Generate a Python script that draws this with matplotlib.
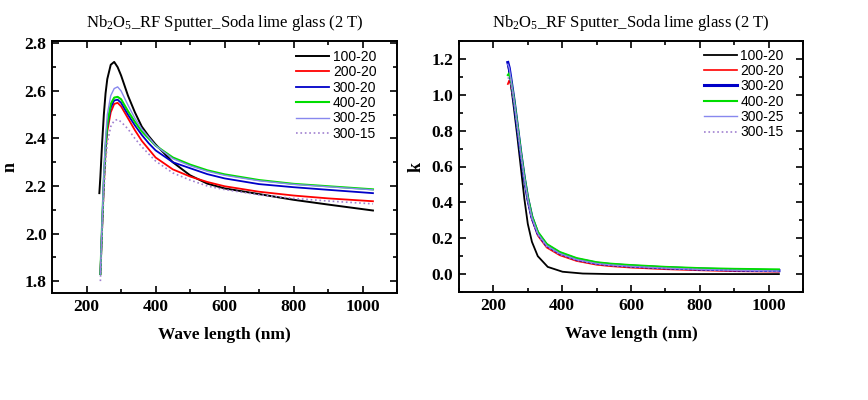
import matplotlib
matplotlib.use('Agg')
import matplotlib.pyplot as plt
from matplotlib.ticker import MultipleLocator, FormatStrFormatter

plt.rcParams['font.family'] = ['Liberation Serif', 'DejaVu Serif']
plt.rcParams['mathtext.fontset'] = 'custom'
plt.rcParams['mathtext.rm'] = 'Liberation Serif'
plt.rcParams['mathtext.it'] = 'Liberation Serif:italic'

title = r'Nb$_2$O$_5$_RF Sputter_Soda lime glass (2 T)'
labels = ['100-20', '200-20', '300-20', '400-20', '300-25', '300-15']

# refractive index n
wl_n_black = [237, 240, 245, 250, 255, 260, 270, 280, 290, 300, 320, 340, 360, 380,
              400, 450, 500, 550, 600, 700, 800, 900, 1030]
n_100_20 = [2.17, 2.24, 2.38, 2.50, 2.59, 2.65, 2.71, 2.722, 2.70, 2.665, 2.58, 2.51,
            2.45, 2.41, 2.375, 2.30, 2.245, 2.21, 2.19, 2.166, 2.142, 2.122, 2.097]

wl_n = [240, 245, 250, 255, 260, 270, 280, 290, 300, 320, 340, 360, 380,
        400, 450, 500, 550, 600, 700, 800, 900, 1030]
n_200_20 = [1.83, 2.02, 2.20, 2.34, 2.43, 2.51, 2.545, 2.55, 2.535, 2.485, 2.435, 2.39,
            2.355, 2.32, 2.27, 2.24, 2.217, 2.199, 2.176, 2.16, 2.148, 2.136]
n_300_20 = [1.83, 2.03, 2.22, 2.36, 2.45, 2.53, 2.56, 2.563, 2.55, 2.50, 2.455, 2.415,
            2.38, 2.35, 2.30, 2.275, 2.25, 2.232, 2.208, 2.195, 2.184, 2.17]
n_400_20 = [1.83, 2.04, 2.23, 2.37, 2.46, 2.545, 2.572, 2.575, 2.565, 2.515, 2.47, 2.43,
            2.40, 2.37, 2.32, 2.29, 2.266, 2.249, 2.225, 2.209, 2.199, 2.186]
n_300_25 = [1.83, 2.05, 2.25, 2.40, 2.50, 2.58, 2.61, 2.617, 2.60, 2.54, 2.485, 2.44,
            2.405, 2.37, 2.315, 2.285, 2.262, 2.245, 2.222, 2.207, 2.197, 2.184]
n_300_15 = [1.80, 2.00, 2.17, 2.30, 2.38, 2.45, 2.475, 2.48, 2.47, 2.44, 2.40, 2.365,
            2.335, 2.305, 2.255, 2.225, 2.20, 2.185, 2.163, 2.148, 2.137, 2.125]

# extinction coefficient k
wl_k_black = [242, 250, 260, 270, 280, 290, 300, 312, 329, 358, 401, 460, 540, 700, 1030]
k_100_20 = [1.18, 1.07, 0.92, 0.76, 0.59, 0.42, 0.28, 0.18, 0.10, 0.04, 0.013, 0.003,
            0.0, 0.0, 0.0]

wl_k = [242, 246, 250, 260, 270, 280, 290, 300, 312, 329, 355, 393, 442, 500, 540,
        600, 700, 800, 900, 1030]
k_200_20 = [1.06, 1.08, 1.06, 0.96, 0.815, 0.66, 0.525, 0.41, 0.305, 0.215, 0.148,
            0.105, 0.073, 0.052, 0.044, 0.036, 0.027, 0.021, 0.016, 0.013]
k_300_20 = [1.18, 1.15, 1.10, 0.97, 0.82, 0.67, 0.535, 0.42, 0.317, 0.228, 0.161,
            0.117, 0.083, 0.061, 0.053, 0.045, 0.035, 0.028, 0.023, 0.019]
k_400_20 = [1.11, 1.12, 1.09, 0.975, 0.83, 0.68, 0.545, 0.43, 0.325, 0.236, 0.168,
            0.123, 0.089, 0.066, 0.058, 0.050, 0.040, 0.033, 0.029, 0.026]
k_300_25 = [1.17, 1.15, 1.10, 0.97, 0.82, 0.67, 0.535, 0.42, 0.315, 0.226, 0.159,
            0.115, 0.081, 0.059, 0.051, 0.043, 0.033, 0.026, 0.021, 0.017]
k_300_15 = [1.09, 1.10, 1.08, 0.965, 0.82, 0.665, 0.53, 0.415, 0.31, 0.22, 0.153,
            0.11, 0.077, 0.056, 0.048, 0.040, 0.031, 0.024, 0.019, 0.015]

colors = ['#000000', '#ff0000', '#0000c8', '#00dd00', '#8888ee', '#a080d0']
styles = ['-', '-', '-', '-', '-', ':']


def style_axes(ax, ymin, ymax, ystep, ylabel, lab_pad):
    ax.set_xlim(100, 1100)
    ax.set_ylim(ymin, ymax)
    ax.xaxis.set_major_locator(MultipleLocator(200))
    ax.xaxis.set_minor_locator(MultipleLocator(100))
    ax.yaxis.set_major_locator(MultipleLocator(ystep))
    ax.yaxis.set_minor_locator(MultipleLocator(ystep / 2))
    ax.yaxis.set_major_formatter(FormatStrFormatter('%.1f'))
    ax.tick_params(which='both', direction='in', top=True, right=True, width=1.2)
    ax.tick_params(which='major', length=5, labelsize=12.5, pad=4)
    ax.tick_params(which='minor', length=3)
    for lab in ax.get_xticklabels() + ax.get_yticklabels():
        lab.set_fontweight('bold')
    for sp in ax.spines.values():
        sp.set_linewidth(1.4)
    ax.set_xlabel('Wave length (nm)', fontsize=12.5, fontweight='bold', labelpad=9)
    ax.set_ylabel(ylabel, fontsize=13, fontweight='bold', labelpad=lab_pad)
    ax.set_title(title, fontsize=12, pad=10)


fig = plt.figure(figsize=(8.68, 4.0), dpi=100)
ax1 = fig.add_axes([0.060, 0.2675, 0.3975, 0.63])
ax2 = fig.add_axes([0.5288, 0.27, 0.3963, 0.6275])

# left: n
n_sets = [(wl_n_black, n_100_20), (wl_n, n_200_20), (wl_n, n_300_20),
          (wl_n, n_400_20), (wl_n, n_300_25), (wl_n, n_300_15)]
n_widths = [1.4, 1.3, 1.3, 1.5, 1.0, 1.2]
for (x, y), lab, c, ls, lw in zip(n_sets, labels, colors, styles, n_widths):
    ax1.plot(x, y, color=c, ls=ls, lw=lw, label=lab)

# right: k
k_sets = [(wl_k_black, k_100_20), (wl_k, k_200_20), (wl_k, k_300_20),
          (wl_k, k_400_20), (wl_k, k_300_25), (wl_k, k_300_15)]
k_widths = [1.3, 1.2, 2.2, 1.5, 1.0, 1.2]
for (x, y), lab, c, ls, lw in zip(k_sets, labels, colors, styles, k_widths):
    ax2.plot(x, y, color=c, ls=ls, lw=lw, label=lab)

style_axes(ax1, 1.75, 2.81, 0.2, 'n', 4)
style_axes(ax2, -0.1, 1.3, 0.2, 'k', 5)

for ax, anchor in [(ax1, (0.94, 0.965)), (ax2, (0.945, 0.97))]:
    ax.legend(loc='upper right', bbox_to_anchor=anchor, frameon=False, borderpad=0,
              borderaxespad=0, handlelength=2.4, handletextpad=0.25, labelspacing=0.1,
              prop={'family': 'Liberation Sans', 'size': 10})

fig.savefig('out.png', dpi=100)
